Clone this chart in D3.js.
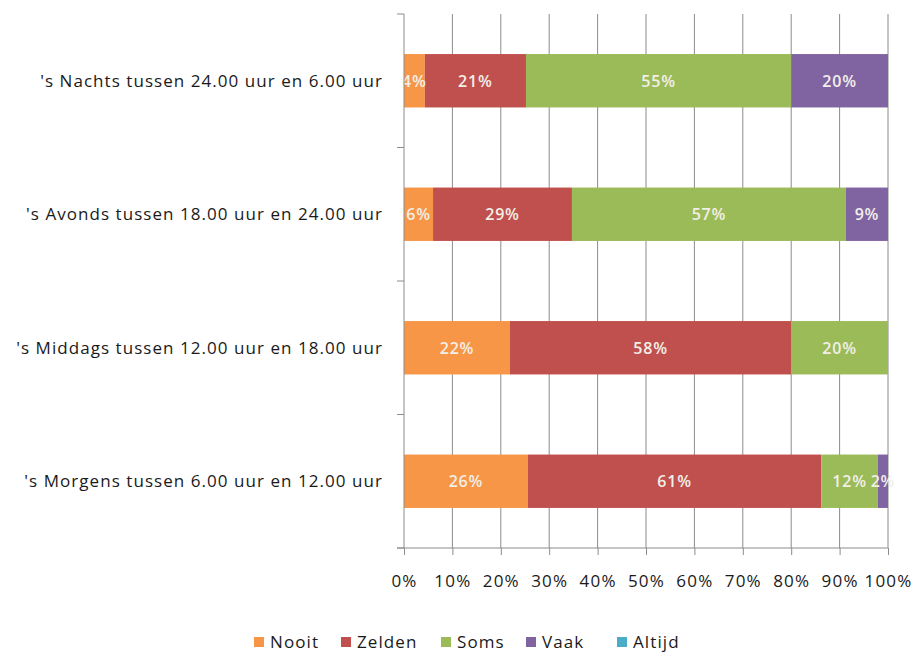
<!DOCTYPE html>
<html>
<head>
<meta charset="utf-8">
<script src="https://cdn.jsdelivr.net/npm/d3@7"></script>
<style>
  body { margin: 0; background: #fff; }
  svg text { font-family: "Open Sans", "DejaVu Sans", sans-serif; }
</style>
</head>
<body>
<svg id="chart"></svg>
<script>
// categories, top to bottom
const categories = [
    "'s Nachts tussen 24.00 uur en 6.00 uur",
    "'s Avonds tussen 18.00 uur en 24.00 uur",
    "'s Middags tussen 12.00 uur en 18.00 uur",
    "'s Morgens tussen 6.00 uur en 12.00 uur"
];
const series = ["Nooit", "Zelden", "Soms", "Vaak", "Altijd"];
const colors = ["#f79646", "#c0504d", "#9bbb59", "#8064a2", "#4bacc6"];

// shares per series (in %), same order as categories
const nooit  = [4.3, 6.0, 21.9, 25.6];
const zelden = [20.9, 28.7, 58.1, 60.6];
const soms   = [54.8, 56.6, 20.0, 11.7];
const vaak   = [20.0, 8.7, 0, 2.1];
const altijd = [0, 0, 0, 0];

const xTicks = [0, 10, 20, 30, 40, 50, 60, 70, 80, 90, 100];

const width = 915, height = 652;
const margin = {top: 14, right: 27, bottom: 104, left: 404};
const fontStack = "'Open Sans', 'DejaVu Sans', sans-serif";

const svg = d3.select("#chart")
    .attr("width", width)
    .attr("height", height);

const rows = categories.map((c, i) => ({
    cat: c, Nooit: nooit[i], Zelden: zelden[i], Soms: soms[i], Vaak: vaak[i], Altijd: altijd[i]
}));
const stacked = d3.stack().keys(series)(rows);

const x = d3.scaleLinear().domain([0, 100]).range([margin.left, width - margin.right]);
const y = d3.scaleBand().domain(categories).range([margin.top, height - margin.bottom]).padding(0);
const barH = y.bandwidth() * 0.4;
const color = d3.scaleOrdinal().domain(series).range(colors);

// vertical gridlines
svg.append("g")
    .selectAll("line")
    .data(xTicks.slice(1))
    .join("line")
    .attr("x1", d => x(d)).attr("x2", d => x(d))
    .attr("y1", margin.top).attr("y2", height - margin.bottom)
    .attr("stroke", "#8c8c8c")
    .attr("stroke-width", 1);

// bars
const layer = svg.append("g")
    .selectAll("g")
    .data(stacked)
    .join("g")
    .attr("fill", d => color(d.key));

layer.selectAll("rect")
    .data(d => d)
    .join("rect")
    .attr("x", d => x(d[0]))
    .attr("width", d => x(d[1]) - x(d[0]))
    .attr("y", d => y(d.data.cat) + (y.bandwidth() - barH) / 2)
    .attr("height", barH);

// value labels
svg.append("g")
    .selectAll("g")
    .data(stacked)
    .join("g")
    .selectAll("text")
    .data(s => s.map(v => ({v: v, val: v.data[s.key]})).filter(d => d.val > 0))
    .join("text")
    .attr("x", d => (x(d.v[0]) + x(d.v[1])) / 2)
    .attr("y", d => y(d.v.data.cat) + y.bandwidth() / 2)
    .attr("dy", "0.36em")
    .attr("text-anchor", "middle")
    .attr("fill", "#f2efe8")
    .attr("font-size", 16)
    .attr("font-weight", 600)
    .attr("letter-spacing", 0.8)
    .text(d => Math.round(d.val) + "%");

// y axis (ticks at band boundaries)
const yAxis = svg.append("g");
yAxis.append("line")
    .attr("x1", margin.left).attr("x2", margin.left)
    .attr("y1", margin.top).attr("y2", height - margin.bottom)
    .attr("stroke", "#8c8c8c");
yAxis.selectAll(".ytick")
    .data(d3.range(categories.length + 1))
    .join("line")
    .attr("class", "ytick")
    .attr("x1", margin.left - 7).attr("x2", margin.left)
    .attr("y1", i => margin.top + i * y.step())
    .attr("y2", i => margin.top + i * y.step())
    .attr("stroke", "#8c8c8c");
yAxis.selectAll("text")
    .data(categories)
    .join("text")
    .attr("x", margin.left - 21)
    .attr("y", d => y(d) + y.bandwidth() / 2)
    .attr("dy", "0.35em")
    .attr("text-anchor", "end")
    .attr("font-size", 17)
    .attr("letter-spacing", 1.05)
    .attr("fill", "#1a1a1a")
    .text(d => d);

// x axis
const xAxis = d3.axisBottom(x)
    .tickValues(xTicks)
    .tickSize(7)
    .tickPadding(20)
    .tickFormat(d => d + "%");
const gx = svg.append("g")
    .attr("transform", `translate(0,${height - margin.bottom})`)
    .call(xAxis);
gx.select(".domain").remove();
gx.append("line")
    .attr("x1", margin.left - 7).attr("x2", x(100))
    .attr("stroke", "#8c8c8c");
gx.selectAll(".tick line").attr("stroke", "#8c8c8c");
gx.selectAll(".tick text")
    .attr("font-size", 17)
    .attr("letter-spacing", 1.2)
    .attr("fill", "#1a1a1a")
    .style("font-family", fontStack);

// legend
const legendX = [254, 341, 441, 526, 617];
const legend = svg.append("g")
    .selectAll("g")
    .data(series)
    .join("g")
    .attr("transform", (d, i) => `translate(${legendX[i]},642)`);
legend.append("rect")
    .attr("x", 0).attr("y", -5)
    .attr("width", 10).attr("height", 10)
    .attr("fill", d => color(d));
legend.append("text")
    .attr("x", 16)
    .attr("dy", "0.35em")
    .attr("font-size", 17)
    .attr("letter-spacing", 1.1)
    .attr("fill", "#1a1a1a")
    .text(d => d);
</script>
</body>
</html>
